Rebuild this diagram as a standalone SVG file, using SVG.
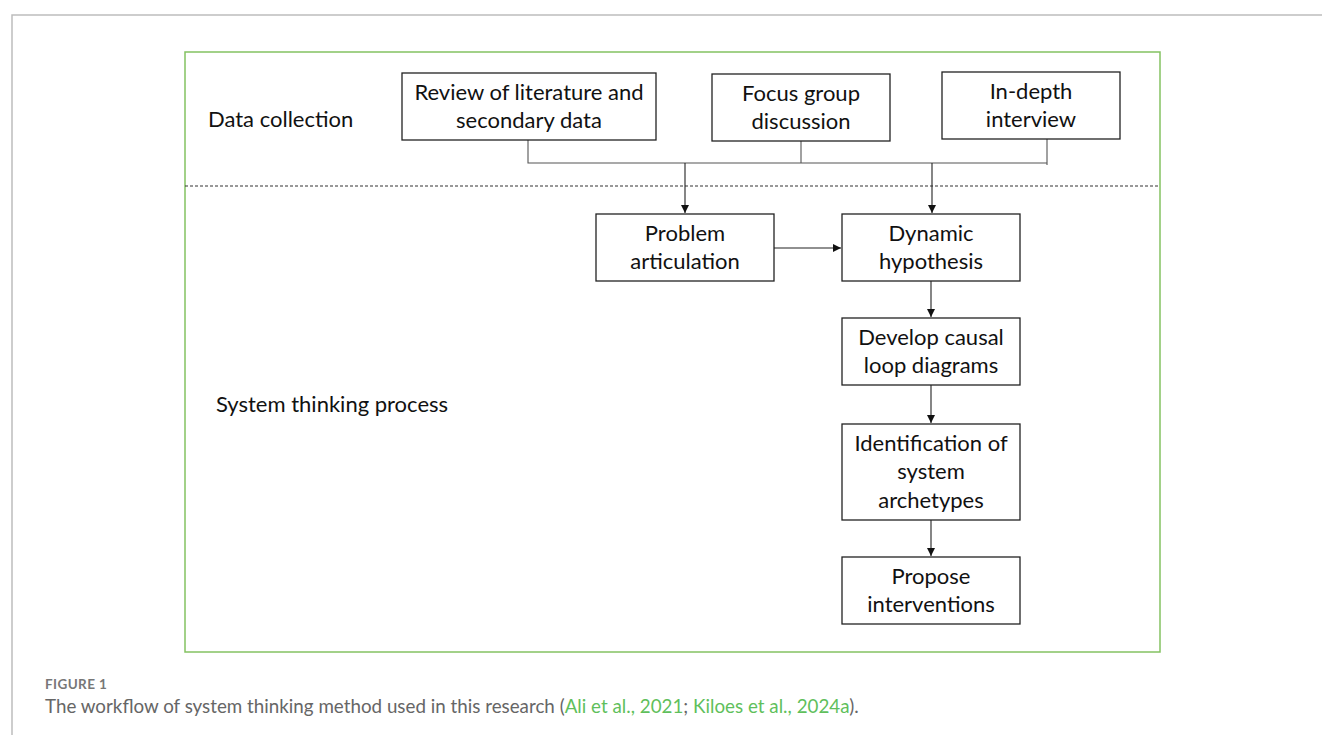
<svg xmlns="http://www.w3.org/2000/svg" width="1322" height="735" viewBox="0 0 1322 735">
  <style>
    .frame { fill: none; stroke: #bdbdbd; stroke-width: 1.5; }
    .panel { fill: none; stroke: #84c262; stroke-width: 1.5; }
    .divider { stroke: #333; stroke-width: 1; stroke-dasharray: 3 2; }
    .box { fill: #fff; stroke: #222; stroke-width: 1.3; }
    .lbl { font-family: Lato, "Liberation Sans", sans-serif; font-size: 22px; fill: #111; text-anchor: middle; }
    .sect { font-family: Lato, "Liberation Sans", sans-serif; font-size: 22px; fill: #111; }
    .wire { fill: none; stroke: #555; stroke-width: 1.1; }
    .arrow { fill: none; stroke: #222; stroke-width: 1.1; marker-end: url(#head); }
    .cap-title { font-family: Lato, "Open Sans", sans-serif; font-size: 13.5px; font-weight: bold; letter-spacing: 0.4px; fill: #777; }
    .cap { font-family: Lato, "Open Sans", sans-serif; font-size: 18.8px; fill: #666; }
    .ref { fill: #5fbf5c; }
  </style>
  <defs>
    <marker id="head" viewBox="0 0 10 10" refX="10" refY="5" markerWidth="8" markerHeight="8" markerUnits="userSpaceOnUse" orient="auto">
      <path d="M0,0 L10,5 L0,10 z" fill="#111"/>
    </marker>
  </defs>

  <!-- page frame -->
  <path class="frame" d="M12,735 V15 H1322"/>

  <!-- outer panel with section divider -->
  <rect class="panel" x="185" y="52" width="975" height="600"/>
  <line class="divider" x1="185" y1="186" x2="1160" y2="186"/>

  <text class="sect" x="208" y="127">Data collection</text>
  <text class="sect" x="216" y="412">System thinking process</text>

  <!-- connectors -->
  <g id="connectors">
    <path class="wire" d="M528,140 V163 H1047 M801,141 V163 M1047,139 V165"/>
    <path class="arrow" d="M685,163 V213"/>
    <path class="arrow" d="M932,163 V213"/>
    <path class="arrow" d="M774,248 H841"/>
    <path class="arrow" d="M931,281 V317"/>
    <path class="arrow" d="M931,385 V423"/>
    <path class="arrow" d="M931,520 V556"/>
  </g>

  <!-- data sources -->
  <g id="review">
    <rect class="box" x="402" y="73" width="254" height="67"/>
    <text class="lbl" x="529" y="100">Review of literature and</text>
    <text class="lbl" x="529" y="128">secondary data</text>
  </g>
  <g id="focus-group">
    <rect class="box" x="712" y="74" width="178" height="67"/>
    <text class="lbl" x="801" y="101">Focus group</text>
    <text class="lbl" x="801" y="129">discussion</text>
  </g>
  <g id="interview">
    <rect class="box" x="942" y="72" width="178" height="67"/>
    <text class="lbl" x="1031" y="99">In-depth</text>
    <text class="lbl" x="1031" y="127">interview</text>
  </g>

  <!-- process steps -->
  <g id="problem">
    <rect class="box" x="596" y="214" width="178" height="67"/>
    <text class="lbl" x="685" y="241">Problem</text>
    <text class="lbl" x="685" y="269">articulation</text>
  </g>
  <g id="hypothesis">
    <rect class="box" x="842" y="214" width="178" height="67"/>
    <text class="lbl" x="931" y="241">Dynamic</text>
    <text class="lbl" x="931" y="269">hypothesis</text>
  </g>
  <g id="causal-loops">
    <rect class="box" x="842" y="318" width="178" height="67"/>
    <text class="lbl" x="931" y="345">Develop causal</text>
    <text class="lbl" x="931" y="373">loop diagrams</text>
  </g>
  <g id="archetypes">
    <rect class="box" x="842" y="424" width="178" height="96"/>
    <text class="lbl" x="931" y="451">Identification of</text>
    <text class="lbl" x="931" y="479">system</text>
    <text class="lbl" x="931" y="508">archetypes</text>
  </g>
  <g id="interventions">
    <rect class="box" x="842" y="557" width="178" height="67"/>
    <text class="lbl" x="931" y="584">Propose</text>
    <text class="lbl" x="931" y="612">interventions</text>
  </g>

  <!-- caption -->
  <text class="cap-title" x="45" y="689">FIGURE 1</text>
  <text class="cap" x="45" y="713">The workflow of system thinking method used in this research (<tspan class="ref">Ali et al., 2021</tspan>; <tspan class="ref">Kiloes et al., 2024a</tspan>).</text>
</svg>
